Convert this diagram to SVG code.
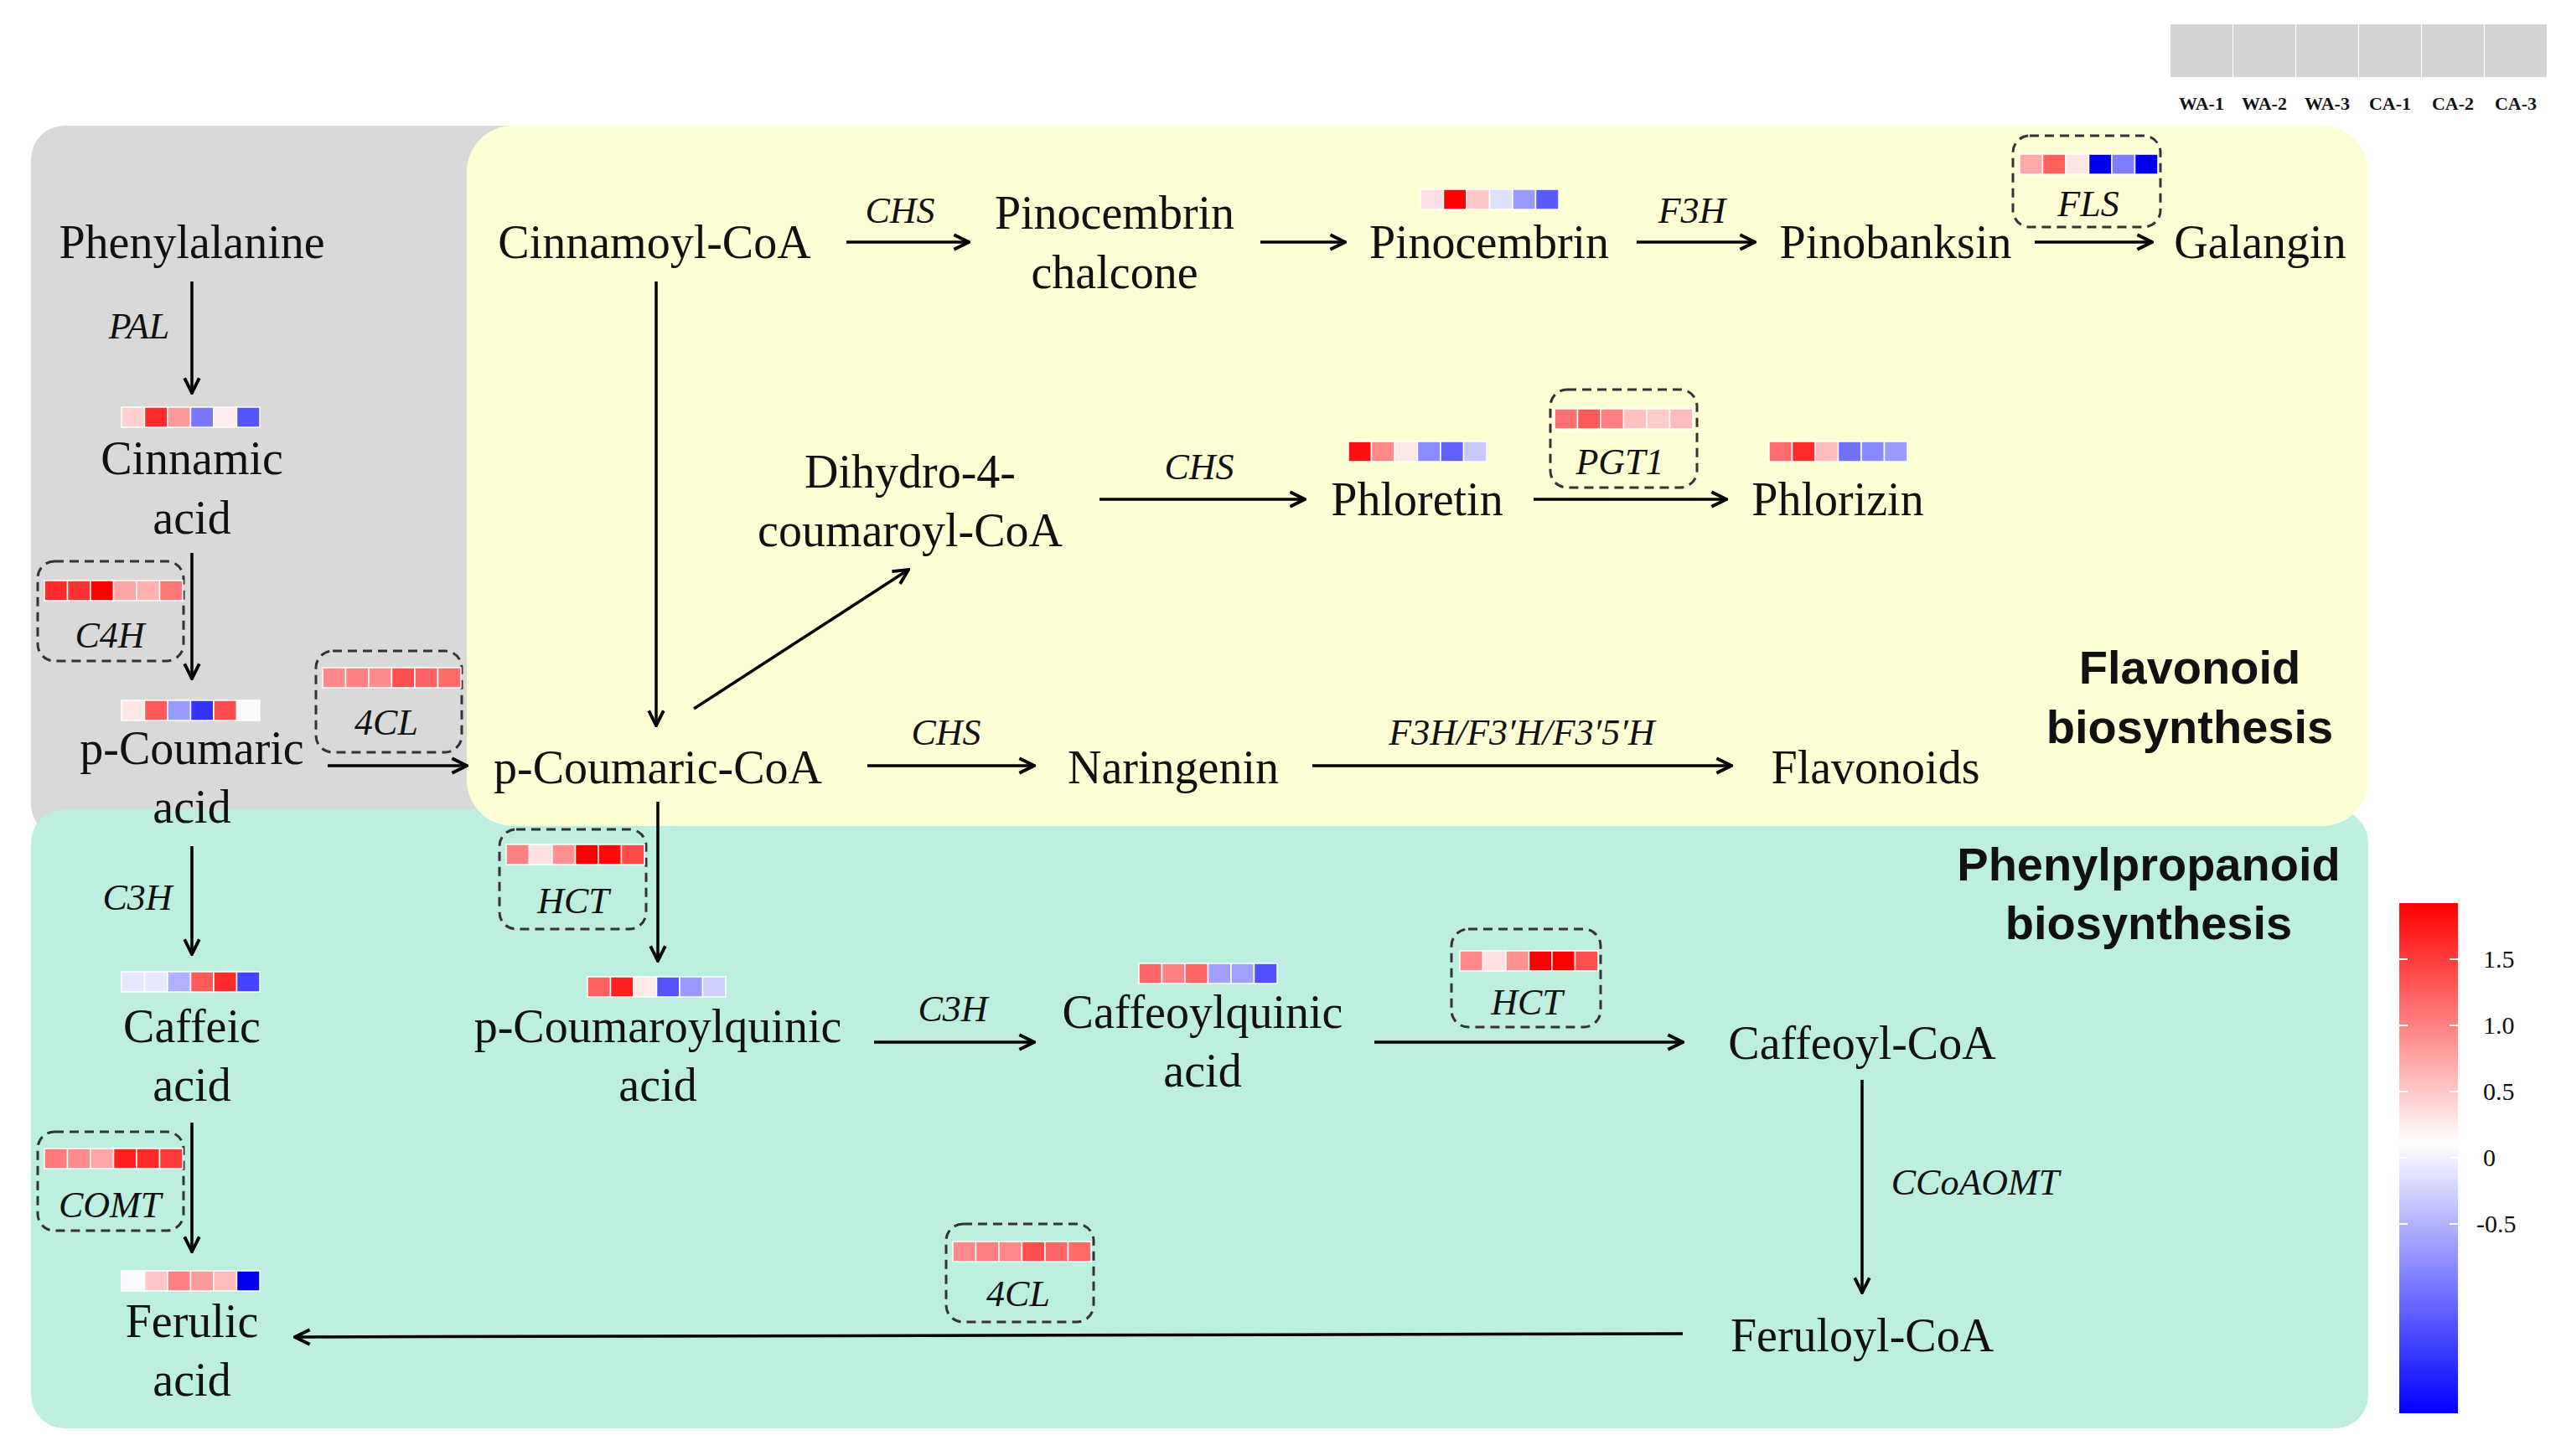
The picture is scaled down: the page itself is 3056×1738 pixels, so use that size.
<svg xmlns="http://www.w3.org/2000/svg" width="3056" height="1738" viewBox="0 0 3056 1738">
<defs>
<marker id="ah" viewBox="0 0 20 20" refX="18" refY="10" markerWidth="22" markerHeight="22" markerUnits="userSpaceOnUse" orient="auto">
<path d="M2,2 L18,10 L2,18" fill="none" stroke="#000" stroke-width="3.5"/>
</marker>
<linearGradient id="cb" x1="0" y1="0" x2="0" y2="1">
<stop offset="0" stop-color="#ff0000"/>
<stop offset="0.47" stop-color="#ffffff"/>
<stop offset="1" stop-color="#0000ff"/>
</linearGradient>
</defs>
<style>
.t{font-family:"Liberation Serif",serif;font-size:56px;fill:#111;text-anchor:middle}
.e{font-family:"Liberation Serif",serif;font-size:44px;font-style:italic;fill:#111;text-anchor:middle}
.b{font-family:"Liberation Sans",Arial,sans-serif;font-size:56px;font-weight:bold;fill:#111;text-anchor:middle}
.l{font-family:"Liberation Serif",serif;font-size:30px;fill:#111}
.s{font-family:"Liberation Serif",serif;font-size:22px;font-weight:bold;fill:#111;text-anchor:middle}
.a{fill:none;stroke:#000;stroke-width:3.5;marker-end:url(#ah)}
.d{fill:none;stroke:#333;stroke-width:3;stroke-dasharray:11 7}
.h rect{stroke:#fff;stroke-width:1.5;height:24px;width:27.5px}
</style>
<rect width="3056" height="1738" fill="#fff"/>
<!-- backgrounds -->
<rect x="37" y="150" width="800" height="850" rx="40" fill="#d9d9d9"/>
<rect x="37" y="966" width="2789" height="739" rx="40" fill="#bcefe0"/>
<rect x="557" y="150" width="2269" height="836" rx="55" fill="#fefed5"/>

<!-- legend -->
<g id="legend">
<rect x="2590" y="29" width="74" height="63" fill="#d4d4d4"/>
<rect x="2665" y="29" width="74" height="63" fill="#d4d4d4"/>
<rect x="2740" y="29" width="74" height="63" fill="#d4d4d4"/>
<rect x="2815" y="29" width="74" height="63" fill="#d4d4d4"/>
<rect x="2890" y="29" width="74" height="63" fill="#d4d4d4"/>
<rect x="2965" y="29" width="74" height="63" fill="#d4d4d4"/>
<text class="s" x="2627" y="131">WA-1</text>
<text class="s" x="2702" y="131">WA-2</text>
<text class="s" x="2777" y="131">WA-3</text>
<text class="s" x="2852" y="131">CA-1</text>
<text class="s" x="2927" y="131">CA-2</text>
<text class="s" x="3002" y="131">CA-3</text>
</g>

<g id="colorbar">
<rect x="2863" y="1078" width="70" height="609" fill="url(#cb)"/>
<g stroke="#fff" stroke-width="2">
<line x1="2863" y1="1145" x2="2873" y2="1145"/><line x1="2923" y1="1145" x2="2933" y2="1145"/>
<line x1="2863" y1="1224" x2="2873" y2="1224"/><line x1="2923" y1="1224" x2="2933" y2="1224"/>
<line x1="2863" y1="1303" x2="2873" y2="1303"/><line x1="2923" y1="1303" x2="2933" y2="1303"/>
<line x1="2863" y1="1382" x2="2873" y2="1382"/><line x1="2923" y1="1382" x2="2933" y2="1382"/>
<line x1="2863" y1="1461" x2="2873" y2="1461"/><line x1="2923" y1="1461" x2="2933" y2="1461"/>
</g>
<text class="l" x="2963" y="1155">1.5</text>
<text class="l" x="2963" y="1234">1.0</text>
<text class="l" x="2963" y="1313">0.5</text>
<text class="l" x="2963" y="1392">0</text>
<text class="l" x="2955" y="1471">-0.5</text>
</g>

<!-- connectors -->
<g id="connectors">
<line class="a" x1="229" y1="336" x2="229" y2="469"/>
<line class="a" x1="229" y1="660" x2="229" y2="810"/>
<line class="a" x1="391" y1="914" x2="557" y2="914"/>
<line class="a" x1="783" y1="336" x2="783" y2="866"/>
<line class="a" x1="828" y1="846" x2="1084" y2="680"/>
<line class="a" x1="1010" y1="289" x2="1156" y2="289"/>
<line class="a" x1="1504" y1="289" x2="1605" y2="289"/>
<line class="a" x1="1953" y1="289" x2="2094" y2="289"/>
<line class="a" x1="2428" y1="289" x2="2568" y2="289"/>
<line class="a" x1="1312" y1="596" x2="1557" y2="596"/>
<line class="a" x1="1830" y1="596" x2="2060" y2="596"/>
<line class="a" x1="1035" y1="914" x2="1234" y2="914"/>
<line class="a" x1="1566" y1="914" x2="2066" y2="914"/>
<line class="a" x1="229" y1="1010" x2="229" y2="1139"/>
<line class="a" x1="229" y1="1340" x2="229" y2="1494"/>
<line class="a" x1="785" y1="957" x2="785" y2="1147"/>
<line class="a" x1="1043" y1="1244" x2="1234" y2="1244"/>
<line class="a" x1="1640" y1="1244" x2="2008" y2="1244"/>
<line class="a" x1="2222" y1="1289" x2="2222" y2="1543"/>
<line class="a" x1="2008" y1="1592" x2="352" y2="1596"/>
</g>

<!-- enzyme labels -->
<g id="enzymes">
<text class="e" x="166" y="404">PAL</text>
<text class="e" x="1074" y="266">CHS</text>
<text class="e" x="2019" y="266">F3H</text>
<text class="e" x="1431" y="572">CHS</text>
<text class="e" x="1129" y="889">CHS</text>
<text class="e" x="1816" y="889">F3H/F3′H/F3′5′H</text>
<text class="e" x="164" y="1086">C3H</text>
<text class="e" x="1137" y="1219">C3H</text>
<text class="e" x="2357" y="1426">CCoAOMT</text>
</g>

<!-- nodes -->
<g id="phenylalanine"><text class="t" x="229" y="308">Phenylalanine</text></g>
<g id="cinnamic">
<g class="h" transform="translate(145,486)"><rect x="0" fill="#ffd0d0"/><rect x="27.5" fill="#ff2a2a"/><rect x="55" fill="#ff9a9a"/><rect x="82.5" fill="#7777ff"/><rect x="110" fill="#ffecec"/><rect x="137.5" fill="#5555ff"/></g>
<text class="t" x="229" y="566">Cinnamic</text><text class="t" x="229" y="637">acid</text></g>
<g id="c4h"><rect class="d" x="45" y="670" width="174" height="119" rx="20"/>
<g class="h" transform="translate(53,693)"><rect x="0" fill="#ff2a2a"/><rect x="27.5" fill="#ff3333"/><rect x="55" fill="#ff0000"/><rect x="82.5" fill="#ffa6a6"/><rect x="110" fill="#ffb0b0"/><rect x="137.5" fill="#ff7777"/></g>
<text class="e" x="131" y="773">C4H</text></g>
<g id="pcoumaric">
<g class="h" transform="translate(145,836)"><rect x="0" fill="#ffe6e6"/><rect x="27.5" fill="#ff5a5a"/><rect x="55" fill="#9999ff"/><rect x="82.5" fill="#3333ff"/><rect x="110" fill="#ff4d4d"/><rect x="137.5" fill="#fffafa"/></g>
<text class="t" x="229" y="912">p-Coumaric</text><text class="t" x="229" y="982">acid</text></g>
<g id="fourcl1"><rect class="d" x="377" y="777" width="174" height="121" rx="20"/>
<g class="h" transform="translate(385,797)"><rect x="0" fill="#ff8888"/><rect x="27.5" fill="#ff8080"/><rect x="55" fill="#ff8c8c"/><rect x="82.5" fill="#ff5050"/><rect x="110" fill="#ff6464"/><rect x="137.5" fill="#ff6a6a"/></g>
<text class="e" x="461" y="877">4CL</text></g>
<g id="pcoumaricCoA"><text class="t" x="785" y="935">p-Coumaric-CoA</text></g>
<g id="cinnamoylCoA"><text class="t" x="781" y="308">Cinnamoyl-CoA</text></g>
<g id="chalcone"><text class="t" x="1330" y="273">Pinocembrin</text><text class="t" x="1330" y="344">chalcone</text></g>
<g id="pinocembrin">
<g class="h" transform="translate(1695,226)"><rect x="0" fill="#ffe0e6"/><rect x="27.5" fill="#ff0000"/><rect x="55" fill="#ffc8c8"/><rect x="82.5" fill="#e0e0ff"/><rect x="110" fill="#9a9aff"/><rect x="137.5" fill="#5a5aff"/></g>
<text class="t" x="1777" y="308">Pinocembrin</text></g>
<g id="pinobanksin"><text class="t" x="2262" y="308">Pinobanksin</text></g>
<g id="fls"><rect class="d" x="2402" y="162" width="176" height="109" rx="20"/>
<g class="h" transform="translate(2410,184)"><rect x="0" fill="#ffaaaa"/><rect x="27.5" fill="#ff6060"/><rect x="55" fill="#ffe6e6"/><rect x="82.5" fill="#0000ee"/><rect x="110" fill="#8080ff"/><rect x="137.5" fill="#0000ee"/></g>
<text class="e" x="2492" y="258">FLS</text></g>
<g id="galangin"><text class="t" x="2697" y="308">Galangin</text></g>
<g id="dihydro"><text class="t" x="1086" y="582">Dihydro-4-</text><text class="t" x="1086" y="652">coumaroyl-CoA</text></g>
<g id="phloretin">
<g class="h" transform="translate(1609,527)"><rect x="0" fill="#ff1010"/><rect x="27.5" fill="#ff8a8a"/><rect x="55" fill="#ffe6e6"/><rect x="82.5" fill="#8a8aff"/><rect x="110" fill="#6060ff"/><rect x="137.5" fill="#c8c8ff"/></g>
<text class="t" x="1691" y="615">Phloretin</text></g>
<g id="pgt1"><rect class="d" x="1850" y="465" width="175" height="117" rx="20"/>
<g class="h" transform="translate(1855,488)"><rect x="0" fill="#ff7070"/><rect x="27.5" fill="#ff5a5a"/><rect x="55" fill="#ff8080"/><rect x="82.5" fill="#ffc0c0"/><rect x="110" fill="#ffcccc"/><rect x="137.5" fill="#ffbbbb"/></g>
<text class="e" x="1933" y="566">PGT1</text></g>
<g id="phlorizin">
<g class="h" transform="translate(2111,527)"><rect x="0" fill="#ff6a6a"/><rect x="27.5" fill="#ff2a2a"/><rect x="55" fill="#ffbbbb"/><rect x="82.5" fill="#7070ff"/><rect x="110" fill="#8888ff"/><rect x="137.5" fill="#9999ff"/></g>
<text class="t" x="2193" y="615">Phlorizin</text></g>
<g id="naringenin"><text class="t" x="1400" y="935">Naringenin</text></g>
<g id="flavonoids"><text class="t" x="2238" y="935">Flavonoids</text></g>
<g id="flavLabel"><text class="b" x="2613" y="816">Flavonoid</text><text class="b" x="2613" y="887">biosynthesis</text></g>
<g id="phenLabel"><text class="b" x="2564" y="1051">Phenylpropanoid</text><text class="b" x="2564" y="1121">biosynthesis</text></g>

<g id="caffeic">
<g class="h" transform="translate(145,1160)"><rect x="0" fill="#e6e6ff"/><rect x="27.5" fill="#e6e6ff"/><rect x="55" fill="#b0b0ff"/><rect x="82.5" fill="#ff5a5a"/><rect x="110" fill="#ff2a2a"/><rect x="137.5" fill="#4444ff"/></g>
<text class="t" x="229" y="1244">Caffeic</text><text class="t" x="229" y="1314">acid</text></g>
<g id="comt"><rect class="d" x="45" y="1351" width="174" height="118" rx="20"/>
<g class="h" transform="translate(53,1371)"><rect x="0" fill="#ff7a7a"/><rect x="27.5" fill="#ff8a8a"/><rect x="55" fill="#ffa6a6"/><rect x="82.5" fill="#ff2020"/><rect x="110" fill="#ff2a2a"/><rect x="137.5" fill="#ff3a3a"/></g>
<text class="e" x="131" y="1453">COMT</text></g>
<g id="ferulic">
<g class="h" transform="translate(145,1517)"><rect x="0" fill="#fafaff"/><rect x="27.5" fill="#ffc8c8"/><rect x="55" fill="#ff8080"/><rect x="82.5" fill="#ff9a9a"/><rect x="110" fill="#ffbbbb"/><rect x="137.5" fill="#0000ee"/></g>
<text class="t" x="229" y="1596">Ferulic</text><text class="t" x="229" y="1666">acid</text></g>
<g id="hct1"><rect class="d" x="596" y="990" width="175" height="119" rx="20"/>
<g class="h" transform="translate(604,1008)"><rect x="0" fill="#ff8080"/><rect x="27.5" fill="#ffe0e0"/><rect x="55" fill="#ff9090"/><rect x="82.5" fill="#ff0000"/><rect x="110" fill="#ff0808"/><rect x="137.5" fill="#ff4a4a"/></g>
<text class="e" x="684" y="1090">HCT</text></g>
<g id="pcoumaroylquinic">
<g class="h" transform="translate(701,1166)"><rect x="0" fill="#ff6060"/><rect x="27.5" fill="#ff2020"/><rect x="55" fill="#ffeaea"/><rect x="82.5" fill="#5555ff"/><rect x="110" fill="#9999ff"/><rect x="137.5" fill="#d0d0ff"/></g>
<text class="t" x="785" y="1244">p-Coumaroylquinic</text><text class="t" x="785" y="1314">acid</text></g>
<g id="caffeoylquinic">
<g class="h" transform="translate(1359,1150)"><rect x="0" fill="#ff6666"/><rect x="27.5" fill="#ff8080"/><rect x="55" fill="#ff6666"/><rect x="82.5" fill="#a0a0ff"/><rect x="110" fill="#a0a0ff"/><rect x="137.5" fill="#5050ff"/></g>
<text class="t" x="1435" y="1227">Caffeoylquinic</text><text class="t" x="1435" y="1297">acid</text></g>
<g id="hct2"><rect class="d" x="1732" y="1109" width="178" height="117" rx="20"/>
<g class="h" transform="translate(1742,1135)"><rect x="0" fill="#ff8888"/><rect x="27.5" fill="#ffe0e0"/><rect x="55" fill="#ff9090"/><rect x="82.5" fill="#ff0000"/><rect x="110" fill="#ff0000"/><rect x="137.5" fill="#ff5050"/></g>
<text class="e" x="1822" y="1211">HCT</text></g>
<g id="caffeoylCoA"><text class="t" x="2222" y="1264">Caffeoyl-CoA</text></g>
<g id="feruloylCoA"><text class="t" x="2222" y="1613">Feruloyl-CoA</text></g>
<g id="fourcl2"><rect class="d" x="1129" y="1461" width="176" height="117" rx="20"/>
<g class="h" transform="translate(1137,1482)"><rect x="0" fill="#ff8a8a"/><rect x="27.5" fill="#ff8080"/><rect x="55" fill="#ff8888"/><rect x="82.5" fill="#ff5050"/><rect x="110" fill="#ff6666"/><rect x="137.5" fill="#ff6a6a"/></g>
<text class="e" x="1215" y="1559">4CL</text></g>
</svg>
